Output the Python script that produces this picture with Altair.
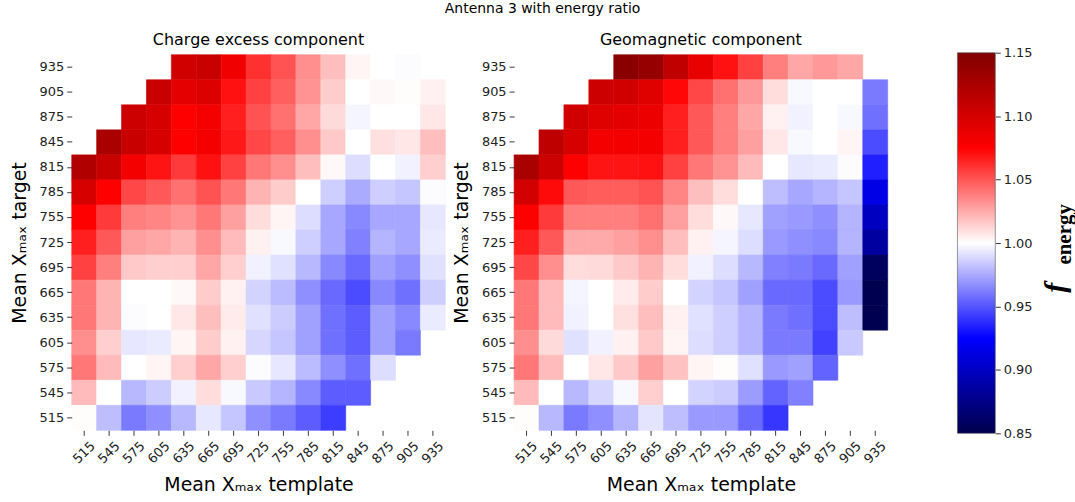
import altair as alt
import pandas as pd

# Axis categories
template_vals = [515, 545, 575, 605, 635, 665, 695, 725, 755, 785, 815, 845, 875, 905, 935]
target_vals = [935, 905, 875, 845, 815, 785, 755, 725, 695, 665, 635, 605, 575, 545, 515]

# Charge excess component: one list per target row (columns = template 515..935)
ce_935 = [None, None, None, None, 1.103, 1.107, 1.083, 1.061, 1.051, 1.033, 1.019, 1.003, 1.000, 0.999, None]
ce_905 = [None, None, None, 1.107, 1.091, 1.095, 1.070, 1.056, 1.047, 1.032, 1.015, 1.000, 1.002, 1.001, 1.004]
ce_875 = [None, None, 1.105, 1.099, 1.075, 1.081, 1.066, 1.051, 1.042, 1.026, 1.011, 0.997, 1.000, 1.000, 1.007]
ce_845 = [None, 1.126, 1.107, 1.099, 1.075, 1.081, 1.068, 1.054, 1.047, 1.033, 1.016, 1.000, 1.009, 1.007, 1.019]
ce_815 = [1.121, 1.107, 1.081, 1.069, 1.058, 1.070, 1.056, 1.040, 1.033, 1.019, 1.002, 0.990, 1.000, 0.996, 1.014]
ce_785 = [1.099, 1.075, 1.054, 1.049, 1.042, 1.051, 1.040, 1.022, 1.015, 1.000, 0.986, 0.975, 0.986, 0.983, 0.999]
ce_755 = [1.075, 1.058, 1.038, 1.036, 1.032, 1.040, 1.028, 1.010, 1.003, 0.990, 0.974, 0.965, 0.974, 0.974, 0.993]
ce_725 = [1.066, 1.049, 1.028, 1.026, 1.022, 1.033, 1.020, 1.004, 0.998, 0.986, 0.974, 0.963, 0.978, 0.974, 0.994]
ce_695 = [1.056, 1.038, 1.016, 1.014, 1.014, 1.026, 1.014, 0.996, 0.991, 0.979, 0.965, 0.956, 0.972, 0.967, 0.991]
ce_665 = [1.040, 1.022, 1.000, 1.000, 1.002, 1.015, 1.004, 0.987, 0.980, 0.967, 0.956, 0.947, 0.965, 0.958, 0.986]
ce_635 = [1.040, 1.022, 0.999, 1.000, 1.007, 1.019, 1.006, 0.991, 0.985, 0.972, 0.958, 0.952, 0.972, 0.965, 0.994]
ce_605 = [1.033, 1.014, 0.993, 0.994, 1.003, 1.015, 1.004, 0.988, 0.983, 0.972, 0.958, 0.952, 0.972, 0.961, None]
ce_575 = [1.040, 1.020, 1.000, 1.003, 1.014, 1.026, 1.014, 0.999, 0.993, 0.980, 0.967, 0.958, 0.990, None, None]
ce_545 = [1.020, 1.000, 0.979, 0.985, 0.996, 1.010, 0.998, 0.984, 0.978, 0.965, 0.952, 0.952, None, None, None]
ce_515 = [1.001, 0.981, 0.961, 0.967, 0.979, 0.993, 0.983, 0.967, 0.961, 0.952, 0.943, None, None, None, None]

# Geomagnetic component
gm_935 = [None, None, None, None, 1.144, 1.137, 1.112, 1.088, 1.070, 1.056, 1.038, 1.026, 1.030, 1.026, None]
gm_905 = [None, None, None, 1.105, 1.103, 1.094, 1.073, 1.054, 1.042, 1.030, 1.010, 0.998, 1.000, 1.000, 0.961]
gm_875 = [None, None, 1.103, 1.094, 1.091, 1.086, 1.066, 1.049, 1.038, 1.026, 1.004, 0.996, 1.000, 0.998, 0.958]
gm_845 = [None, 1.113, 1.099, 1.081, 1.081, 1.081, 1.066, 1.049, 1.038, 1.028, 1.007, 0.998, 1.000, 1.003, 0.947]
gm_815 = [1.126, 1.105, 1.075, 1.069, 1.069, 1.070, 1.056, 1.040, 1.032, 1.020, 1.000, 0.993, 0.994, 0.999, 0.934]
gm_785 = [1.101, 1.072, 1.049, 1.048, 1.048, 1.051, 1.036, 1.019, 1.010, 1.000, 0.981, 0.974, 0.978, 0.983, 0.915]
gm_755 = [1.075, 1.058, 1.038, 1.038, 1.038, 1.042, 1.028, 1.010, 1.002, 0.993, 0.972, 0.970, 0.967, 0.978, 0.899]
gm_725 = [1.066, 1.049, 1.025, 1.025, 1.028, 1.033, 1.019, 1.004, 0.997, 0.990, 0.970, 0.967, 0.965, 0.978, 0.885]
gm_695 = [1.054, 1.033, 1.010, 1.011, 1.016, 1.022, 1.010, 0.996, 0.990, 0.979, 0.963, 0.961, 0.956, 0.972, 0.858]
gm_665 = [1.040, 1.020, 0.997, 1.000, 1.006, 1.015, 1.000, 0.987, 0.983, 0.972, 0.956, 0.956, 0.947, 0.970, 0.852]
gm_635 = [1.040, 1.020, 0.996, 1.000, 1.009, 1.019, 1.004, 0.991, 0.986, 0.978, 0.961, 0.958, 0.947, 0.981, 0.852]
gm_605 = [1.033, 1.011, 0.991, 0.996, 1.004, 1.016, 1.003, 0.990, 0.986, 0.978, 0.961, 0.961, 0.944, 0.984, None]
gm_575 = [1.040, 1.020, 1.000, 1.007, 1.016, 1.028, 1.018, 1.003, 1.001, 0.991, 0.970, 0.972, 0.954, None, None]
gm_545 = [1.020, 1.000, 0.979, 0.988, 0.998, 1.014, 1.000, 0.987, 0.985, 0.971, 0.954, 0.963, None, None, None]
gm_515 = [1.001, 0.979, 0.961, 0.967, 0.978, 0.992, 0.981, 0.970, 0.970, 0.956, 0.941, None, None, None, None]

colorbar_ticks = [0.85, 0.90, 0.95, 1.00, 1.05, 1.10, 1.15]

ce_rows = [ce_935, ce_905, ce_875, ce_845, ce_815, ce_785, ce_755, ce_725,
           ce_695, ce_665, ce_635, ce_605, ce_575, ce_545, ce_515]
gm_rows = [gm_935, gm_905, gm_875, gm_845, gm_815, gm_785, gm_755, gm_725,
           gm_695, gm_665, gm_635, gm_605, gm_575, gm_545, gm_515]


def to_df(rows):
    recs = []
    for yv, row in zip(target_vals, rows):
        for xv, v in zip(template_vals, row):
            if v is not None:
                recs.append({"template": xv, "target": yv, "f": v})
    return pd.DataFrame(recs)


FONT = "DejaVu Sans"
seismic = alt.Scale(domain=[0.85, 0.925, 1.0, 1.075, 1.15],
                    range=["#00004c", "#0000ff", "#ffffff", "#ff0000", "#800000"],
                    interpolate="rgb", clamp=True)

W, H = 375, 377


def panel(df, title):
    return alt.Chart(df).mark_rect(strokeWidth=0.6).encode(
        x=alt.X("template:O",
                scale=alt.Scale(domain=template_vals, paddingInner=0, paddingOuter=0),
                axis=alt.Axis(title="Mean Xₘₐₓ template", labelAngle=315,
                              labelAlign="center", labelBaseline="middle",
                              labelPadding=17, titlePadding=10)),
        y=alt.Y("target:O",
                scale=alt.Scale(domain=target_vals, paddingInner=0, paddingOuter=0),
                axis=alt.Axis(title="Mean Xₘₐₓ target", titlePadding=10)),
        color=alt.Color("f:Q", scale=seismic, legend=None),
        stroke=alt.Stroke("f:Q", scale=seismic, legend=None),
    ).properties(width=W, height=H,
                 title=alt.TitleParams(title, fontSize=16, font=FONT,
                                       fontWeight="normal", offset=6, color="#000"))


p1 = panel(to_df(ce_rows), "Charge excess component")
p2 = panel(to_df(gm_rows), "Geomagnetic component")

cb_df = pd.DataFrame({"lo": [colorbar_ticks[0]], "hi": [colorbar_ticks[-1]]})
CB_GAP, CB_W, CB_H = 63, 38, 380
grad = alt.Gradient(gradient="linear", x1=0, x2=0, y1=0, y2=1, stops=[
    alt.GradientStop(offset=0.0, color="#800000"),
    alt.GradientStop(offset=0.25, color="#ff0000"),
    alt.GradientStop(offset=0.5, color="#ffffff"),
    alt.GradientStop(offset=0.75, color="#0000ff"),
    alt.GradientStop(offset=1.0, color="#00004c"),
])
cbar_rect = alt.Chart(cb_df).mark_rect(fill=grad, stroke="#555", strokeWidth=0.6).encode(
    y=alt.Y("lo:Q", scale=alt.Scale(domain=[0.85, 1.15], nice=False, zero=False,
                                    range=[CB_H, -2]),
            axis=alt.Axis(orient="right", values=colorbar_ticks, format=".2f",
                          title=None, grid=False, domain=False)),
    y2="hi:Q",
    x=alt.value(CB_GAP), x2=alt.value(CB_GAP + CB_W),
)
lab_f = alt.Chart(cb_df).mark_text(text="f", angle=270, font="Liberation Serif",
                                   fontStyle="italic", fontWeight="bold", fontSize=30,
                                   align="center", baseline="middle", color="#000").encode(
    x=alt.value(162), y=alt.value(234))
lab_e = alt.Chart(cb_df).mark_text(text="energy", angle=270, font="Liberation Serif",
                                   fontWeight="bold", fontSize=21,
                                   align="right", baseline="middle", color="#000").encode(
    x=alt.value(171), y=alt.value(150))
cbar = alt.layer(cbar_rect, lab_f, lab_e).properties(width=CB_GAP + CB_W, height=CB_H)

chart = alt.hconcat(p1, p2, cbar, spacing=6).properties(
    title=alt.TitleParams("Antenna 3 with energy ratio", fontSize=14, font=FONT,
                          fontWeight="normal", anchor="middle", offset=17, color="#000"),
    padding={"left": 10, "top": 0, "right": 0, "bottom": 0},
).configure_view(stroke=None).configure_axis(
    labelFont=FONT, labelFontSize=13, labelColor="#222",
    titleFont=FONT, titleFontSize=19, titleFontWeight="normal", titleColor="#000",
    tickColor="#222", tickSize=5, tickWidth=0.9, labelPadding=3, domain=False, grid=False,
)

chart.save("out.html", embed_options={"renderer": "svg", "actions": False})
